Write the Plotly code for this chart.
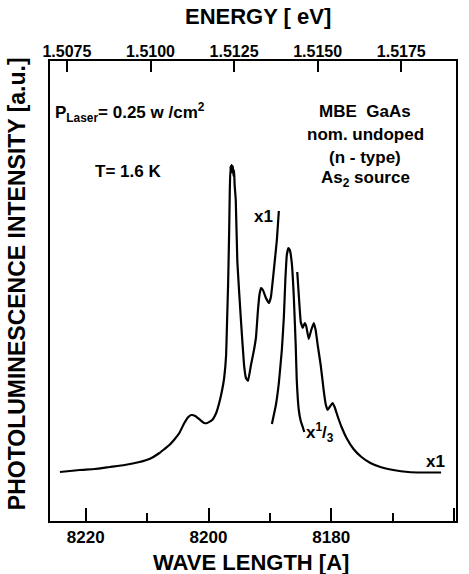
import plotly.graph_objects as go

# ---------------- data ----------------
# curve A : "x1" low-energy part (wavelength in Angstrom, intensity in a.u.)
wl_a = [8224.21, 8220.97, 8218.54, 8216.10, 8213.67, 8211.24, 8209.62, 8207.99,
        8207.18, 8206.37, 8205.56, 8204.75, 8203.94,
        8203.29, 8202.81, 8202.16, 8201.35, 8200.70, 8200.21, 8199.40, 8198.75,
        8198.26, 8197.78, 8197.45, 8197.13, 8196.97, 8196.81, 8196.64, 8196.53,
        8196.43, 8196.34, 8196.24, 8196.12, 8196.03, 8195.93, 8195.83, 8195.74,
        8195.56, 8195.30, 8194.75, 8194.21, 8193.89, 8193.56, 8193.08, 8192.59,
        8192.26, 8191.94, 8191.70, 8191.45, 8191.13, 8190.64, 8190.16, 8189.83,
        8189.35, 8188.86, 8188.54]
int_a = [10.65, 11.09, 11.30, 11.74, 12.17, 12.83, 13.48, 14.78,
         15.65, 16.52, 17.72, 19.13, 21.30,
         22.61, 23.04, 22.83, 21.96, 21.30, 21.30, 21.96, 23.48,
         25.65, 28.48, 31.09, 36.09, 43.70, 51.30, 62.61, 71.96,
         77.17, 75.65, 77.39, 75.87, 77.17, 75.00, 76.30, 73.04,
         69.78, 56.30, 44.35, 33.91, 31.09, 30.43, 33.91, 37.17,
         40.00, 45.87, 49.13, 50.65, 50.22, 48.48, 47.39, 48.70,
         54.57, 61.09, 67.39]

# curve B : "x1/3" main exciton line
wl_b = [8189.67, 8189.02, 8188.54, 8188.05, 8187.72, 8187.48, 8187.24, 8186.99,
        8186.75, 8186.43, 8186.10, 8185.78, 8185.62, 8185.29, 8184.97, 8184.64,
        8184.40]
int_b = [21.09, 25.22, 30.00, 37.17, 44.35, 52.39, 57.83, 59.35,
         58.91, 56.09, 48.70, 37.83, 30.65, 24.13, 21.74, 20.43,
         19.35]

# curve C : "x1" high-energy part
wl_c = [8185.54, 8185.29, 8184.97, 8184.64, 8184.32, 8184.08, 8183.67, 8183.26,
        8182.86, 8182.54, 8182.21, 8181.72, 8181.24, 8180.91, 8180.59, 8180.26,
        8179.78, 8179.45, 8178.97, 8178.32, 8177.51, 8176.37, 8175.08, 8173.62,
        8171.99, 8169.89, 8167.45, 8165.02, 8162.10]
int_c = [54.13, 49.13, 43.26, 41.96, 43.04, 42.39, 39.57, 41.52,
         43.04, 41.52, 38.26, 33.91, 28.48, 25.43, 24.13, 24.78,
         25.65, 24.78, 22.83, 20.43, 18.04, 15.65, 13.91, 12.61,
         11.74, 11.09, 10.65, 10.54, 10.54]

bottom_ticks = [8220, 8200, 8180, 8160]
bottom_minor = [8210, 8190, 8170]
top_ticks = [1.5075, 1.5100, 1.5125, 1.5150, 1.5175]
top_labels = ["1.5075", "1.5100", "1.5125", "1.5150", "1.5175"]
energy_range = [1.506994, 1.519137]
wl_range = [8225.83, 8159.67]

FONT = "Liberation Sans"
fig = go.Figure()
line = dict(color="black", width=2.2, shape="spline", smoothing=0.3)
for xs, ys in [(wl_a, int_a), (wl_b, int_b), (wl_c, int_c)]:
    fig.add_trace(go.Scatter(x=xs, y=ys, mode="lines", line=line,
                             showlegend=False, hoverinfo="skip"))
# invisible trace to carry the energy axis
fig.add_trace(go.Scatter(x=energy_range, y=[0, 0], xaxis="x2", mode="lines",
                         line=dict(width=0), opacity=0, showlegend=False,
                         hoverinfo="skip"))

def ann(text, x, y, size, xanchor="center", angle=0):
    return dict(text=text, x=x, y=y, xref="paper", yref="paper",
                xanchor=xanchor, yanchor="middle", showarrow=False,
                textangle=angle,
                font=dict(family=FONT, size=size, color="black", weight="bold"))

annotations = [
    ann("ENERGY [ eV]", 0.512, 1.0957, 22),
    ann("WAVE LENGTH [A]", 0.496, -0.0913, 22),
    ann("PHOTOLUMINESCENCE INTENSITY [a.u.]", -0.081, 0.515, 23, angle=-90),
    ann("P<sub>Laser</sub>= 0.25 w /cm<sup>2</sup>", 0.0074, 0.889, 17, xanchor="left"),
    ann("T= 1.6 K", 0.105, 0.759, 17, xanchor="left"),
    ann("MBE  GaAs", 0.777, 0.891, 17),
    ann("nom. undoped", 0.777, 0.841, 17),
    ann("(n - type)", 0.777, 0.791, 17),
    ann("As<sub>2</sub> source", 0.777, 0.743, 17),
    ann("x1", 0.527, 0.663, 17),
    ann("x<sup>1</sup>/<sub>3</sub>", 0.664, 0.193, 17),
    ann("x1", 0.949, 0.130, 17),
]

fig.update_layout(
    width=469, height=574,
    margin=dict(l=50, r=11, t=61, b=53),
    paper_bgcolor="white", plot_bgcolor="white",
    font=dict(family=FONT, color="black"),
    xaxis=dict(range=wl_range, tickmode="array", tickvals=bottom_ticks,
               ticks="inside", ticklen=13, tickwidth=2, tickcolor="black",
               showline=True, linewidth=2, linecolor="black", mirror=True,
               showgrid=False, zeroline=False,
               tickfont=dict(family=FONT, size=17, color="black", weight="bold"),
               minor=dict(tickvals=bottom_minor, ticks="inside", ticklen=8,
                          tickwidth=2, tickcolor="black", showgrid=False)),
    xaxis2=dict(range=energy_range, overlaying="x", side="top", anchor="y",
                tickmode="array", tickvals=top_ticks, ticktext=top_labels,
                ticks="inside", ticklen=11, tickwidth=2, tickcolor="black",
                showline=False, showgrid=False, zeroline=False,
                tickfont=dict(family=FONT, size=16, color="black", weight="bold")),
    yaxis=dict(range=[0, 100], showticklabels=False, ticks="",
               showline=True, linewidth=2, linecolor="black", mirror=True,
               showgrid=False, zeroline=False),
    annotations=annotations,
)

fig.write_html("out.html")
